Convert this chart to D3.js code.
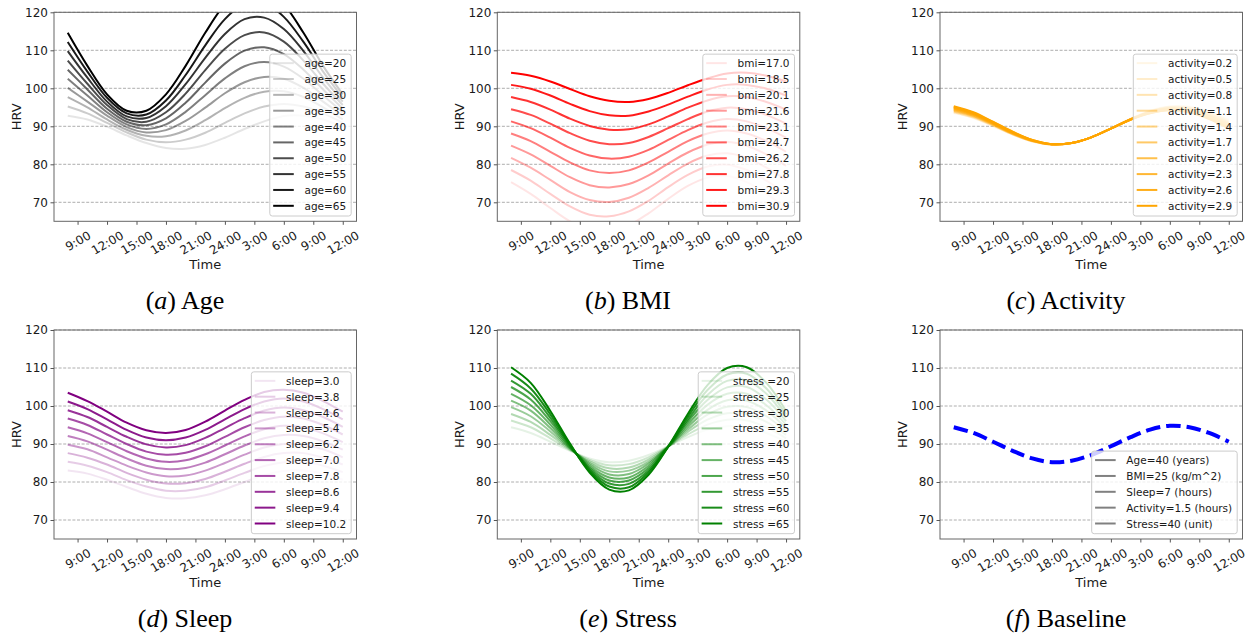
<!DOCTYPE html>
<html><head><meta charset="utf-8">
<script src="https://cdn.jsdelivr.net/npm/d3@7"></script>
<style>body{margin:0;background:#fff;} svg{display:block;font-family:"DejaVu Sans",sans-serif;}</style>
</head><body>
<svg id="chart" width="1252" height="635"></svg>
<script>
// ---------------- data ----------------
const hours = [8,10,12,14,16,18,20,22,24,26,28,30,32,34,36];
const xTickValues = [9,12,15,18,21,24,27,30,33,36];
const xTickLabels = ["9:00","12:00","15:00","18:00","21:00","24:00","3:00","6:00","9:00","12:00"];
const yTickValues = [70,80,90,100,110,120];

const ageLabels = ["age=20","age=25","age=30","age=35","age=40","age=45","age=50","age=55","age=60","age=65"];
const ageSeries = [
 [92.8,91.8,89.9,87.6,85.6,84.3,84.1,85.1,87.0,89.3,91.3,92.7,92.8,91.8,89.9],
 [95.2,93.4,90.9,88.4,86.5,85.8,86.5,88.3,90.9,93.4,95.2,95.9,95.2,93.4,90.9],
 [97.7,95.0,91.8,89.1,87.5,87.4,88.9,91.6,94.8,97.5,99.1,99.2,97.7,95.0,91.8],
 [100.1,96.5,92.8,89.8,88.4,89.0,91.4,94.9,98.7,101.6,103.0,102.5,100.1,96.5,92.8],
 [102.5,98.1,93.7,90.5,89.3,90.5,93.8,98.2,102.6,105.8,106.9,105.7,102.5,98.1,93.7],
 [104.9,99.7,94.6,91.2,90.3,92.1,96.2,101.5,106.5,109.9,110.8,109.0,104.9,99.7,94.6],
 [107.3,101.2,95.6,91.9,91.2,93.7,98.6,104.8,110.4,114.0,114.7,112.3,107.3,101.2,95.6],
 [109.8,102.8,96.5,92.6,92.2,95.3,101.1,108.0,114.3,118.2,118.6,115.6,109.8,102.8,96.5],
 [112.2,104.4,97.5,93.4,93.1,96.8,103.5,111.3,118.2,122.3,122.5,118.8,112.2,104.4,97.5],
 [114.6,105.9,98.4,94.1,94.1,98.4,105.9,114.6,122.1,126.4,126.4,122.1,114.6,105.9,98.4]
];

const bmiLabels = ["bmi=17.0","bmi=18.5","bmi=20.1","bmi=21.6","bmi=23.1","bmi=24.7","bmi=26.2","bmi=27.8","bmi=29.3","bmi=30.9"];
const bmiSeries = [
 [75.3,72.2,68.5,65.0,62.8,62.5,64.0,67.1,70.9,74.3,76.5,76.9,75.3,72.2,68.5],
 [78.5,75.7,72.2,68.9,66.7,66.3,67.6,70.4,74.0,77.2,79.4,79.9,78.5,75.7,72.2],
 [81.7,79.1,75.9,72.7,70.6,70.1,71.2,73.8,77.1,80.2,82.3,82.9,81.7,79.1,75.9],
 [84.9,82.6,79.6,76.6,74.5,73.9,74.8,77.1,80.2,83.1,85.2,85.9,84.9,82.6,79.6],
 [88.1,86.1,83.3,80.5,78.4,77.7,78.4,80.5,83.3,86.1,88.1,88.9,88.1,86.1,83.3],
 [91.3,89.5,87.0,84.3,82.3,81.5,82.0,83.8,86.4,89.0,91.0,91.9,91.3,89.5,87.0],
 [94.5,93.0,90.7,88.2,86.2,85.3,85.6,87.2,89.5,91.9,93.9,94.9,94.5,93.0,90.7],
 [97.7,96.4,94.4,92.0,90.1,89.1,89.2,90.5,92.6,94.9,96.8,97.9,97.7,96.4,94.4],
 [100.9,99.9,98.1,95.9,94.0,92.9,92.8,93.9,95.7,97.8,99.7,100.9,100.9,99.9,98.1],
 [104.1,103.3,101.8,99.8,97.9,96.7,96.4,97.2,98.8,100.8,102.6,103.9,104.1,103.3,101.8]
];

const activityLabels = ["activity=0.2","activity=0.5","activity=0.8","activity=1.1","activity=1.4","activity=1.7","activity=2.0","activity=2.3","activity=2.6","activity=2.9"];
const activitySeries = [
 [93.5,92.2,90.0,87.8,86.0,85.2,85.6,87.1,89.4,92.0,94.2,95.3,95.2,94.0,91.9],
 [93.7,92.3,90.2,87.9,86.0,85.2,85.6,87.1,89.4,91.9,94.1,95.2,95.1,93.7,91.6],
 [93.9,92.5,90.3,87.9,86.1,85.2,85.6,87.1,89.4,91.9,94.0,95.1,94.9,93.5,91.3],
 [94.1,92.7,90.4,88.0,86.1,85.2,85.6,87.1,89.4,91.9,93.9,95.0,94.7,93.3,91.0],
 [94.3,92.8,90.6,88.1,86.2,85.2,85.6,87.1,89.4,91.9,93.8,94.8,94.5,93.0,90.8],
 [94.5,93.0,90.7,88.2,86.2,85.3,85.6,87.1,89.4,91.8,93.8,94.7,94.3,92.8,90.5],
 [94.7,93.2,90.8,88.3,86.3,85.3,85.6,87.1,89.4,91.8,93.7,94.6,94.2,92.6,90.2],
 [94.9,93.3,91.0,88.4,86.3,85.3,85.6,87.1,89.4,91.8,93.6,94.4,94.0,92.3,89.9],
 [95.1,93.5,91.1,88.5,86.4,85.3,85.6,87.1,89.4,91.8,93.5,94.3,93.8,92.1,89.6],
 [95.3,93.7,91.2,88.6,86.4,85.3,85.6,87.1,89.4,91.7,93.4,94.2,93.6,91.9,89.4]
];

const sleepLabels = ["sleep=3.0","sleep=3.8","sleep=4.6","sleep=5.4","sleep=6.2","sleep=7.0","sleep=7.8","sleep=8.6","sleep=9.4","sleep=10.2"];
const sleepSeries = [
 [83.0,82.2,80.6,78.7,76.9,75.8,75.7,76.5,78.1,80.0,81.8,82.9,83.0,82.2,80.6],
 [85.3,84.3,82.6,80.5,78.8,77.7,77.7,78.6,80.4,82.4,84.2,85.2,85.3,84.3,82.6],
 [87.6,86.4,84.6,82.4,80.6,79.6,79.7,80.8,82.7,84.8,86.6,87.6,87.6,86.4,84.6],
 [89.8,88.6,86.5,84.3,82.5,81.5,81.7,83.0,85.0,87.2,89.1,90.0,89.8,88.6,86.5],
 [92.1,90.7,88.5,86.2,84.3,83.4,83.7,85.1,87.3,89.6,91.5,92.4,92.1,90.7,88.5],
 [94.4,92.8,90.5,88.1,86.2,85.3,85.7,87.3,89.6,92.0,93.9,94.8,94.4,92.8,90.5],
 [96.7,95.0,92.5,90.0,88.0,87.2,87.7,89.4,91.9,94.4,96.3,97.2,96.7,95.0,92.5],
 [98.9,97.1,94.5,91.9,89.9,89.1,89.7,91.6,94.2,96.8,98.8,99.6,98.9,97.1,94.5],
 [101.2,99.2,96.5,93.7,91.7,91.0,91.7,93.7,96.5,99.2,101.2,102.0,101.2,99.2,96.5],
 [103.5,101.3,98.5,95.6,93.6,92.9,93.7,95.9,98.8,101.6,103.7,104.3,103.5,101.3,98.5]
];

const stressLabels = ["stress =20","stress =25","stress =30","stress =35","stress =40","stress =45","stress =50","stress =55","stress =60","stress =65"];
const stressSeries = [
 [94.4,92.9,90.6,88.2,86.2,85.2,85.6,87.1,89.4,91.8,93.8,94.7,94.4,92.9,90.6],
 [96.2,94.4,91.5,88.4,85.8,84.4,84.7,86.5,89.3,92.5,95.1,96.4,96.2,94.4,91.5],
 [97.9,95.8,92.4,88.6,85.4,83.6,83.8,85.9,89.3,93.2,96.4,98.1,97.9,95.8,92.4],
 [99.7,97.3,93.3,88.8,85.0,82.8,83.0,85.3,89.3,93.8,97.7,99.8,99.7,97.3,93.3],
 [101.4,98.8,94.2,89.0,84.6,82.0,82.1,84.8,89.3,94.5,99.0,101.5,101.4,98.8,94.2],
 [103.2,100.2,95.1,89.2,84.1,81.2,81.2,84.2,89.3,95.2,100.3,103.2,103.2,100.2,95.1],
 [105.0,101.7,96.0,89.5,83.7,80.4,80.4,83.6,89.3,95.9,101.6,104.9,105.0,101.7,96.0],
 [106.7,103.2,96.9,89.7,83.3,79.6,79.5,83.0,89.3,96.5,102.9,106.6,106.7,103.2,96.9],
 [108.5,104.6,97.8,89.9,82.9,78.8,78.6,82.5,89.3,97.2,104.2,108.3,108.5,104.6,97.8],
 [110.2,106.1,98.7,90.1,82.5,78.0,77.8,81.9,89.3,97.9,105.5,110.0,110.2,106.1,98.7]
];

const baselineSeries = [94.4,92.9,90.6,88.2,86.2,85.2,85.6,87.1,89.4,91.8,93.8,94.8,94.4,92.9,90.6];
const baselineLegend = ["Age=40 (years)","BMI=25 (kg/m^2)","Sleep=7 (hours)","Activity=1.5 (hours)","Stress=40 (unit)"];

const captionLetters = ["a","b","c","d","e","f"];
const captionNames = ["Age","BMI","Activity","Sleep","Stress","Baseline"];

// ---------------- layout ----------------
const colLeft = [54, 497.3, 940];
const colCaption = [185, 628, 1066];
const rowTop = [12.3, 330];
const rowCaptionY = [309, 627];
const plotW = 302.5, plotH = 209;

const svg = d3.select("#chart");

const panels = [
  {row:0,col:0,series:ageSeries,labels:ageLabels,color:"#000000"},
  {row:0,col:1,series:bmiSeries,labels:bmiLabels,color:"#ff0000"},
  {row:0,col:2,series:activitySeries,labels:activityLabels,color:"#ffa500"},
  {row:1,col:0,series:sleepSeries,labels:sleepLabels,color:"#800080"},
  {row:1,col:1,series:stressSeries,labels:stressLabels,color:"#008000"},
  {row:1,col:2,series:[baselineSeries],labels:baselineLegend,color:"#0000ff",baseline:true}
];

const x = d3.scaleLinear().domain([6.6, 37.4]).range([0, plotW]);
const y = d3.scaleLinear().domain([65, 120]).range([plotH, 0]);
const line = d3.line().x((d,i)=>x(hours[i])).y(d=>y(d)).curve(d3.curveCatmullRom.alpha(0.5));

panels.forEach((p, pi) => {
  const g = svg.append("g").attr("transform", `translate(${colLeft[p.col]},${rowTop[p.row]})`);
  const clipId = "clip" + pi;
  g.append("clipPath").attr("id", clipId).append("rect").attr("width", plotW).attr("height", plotH);

  // grid
  g.append("g").selectAll("line").data(yTickValues).join("line")
    .attr("x1", 0).attr("x2", plotW).attr("y1", d=>y(d)).attr("y2", d=>y(d))
    .attr("stroke", "#999").attr("stroke-width", 0.8).attr("stroke-dasharray", "3,1.6");

  // lines
  const lg = g.append("g").attr("clip-path", `url(#${clipId})`);
  if (p.baseline) {
    lg.append("path").attr("d", line(p.series[0])).attr("fill","none")
      .attr("stroke", p.color).attr("stroke-width", 4).attr("stroke-dasharray","14.5,6");
  } else {
    p.series.forEach((s, k) => {
      lg.append("path").attr("d", line(s)).attr("fill","none")
        .attr("stroke", p.color).attr("stroke-opacity", (k+1)/10).attr("stroke-width", 2);
    });
  }

  // frame
  g.append("rect").attr("width", plotW).attr("height", plotH)
    .attr("fill","none").attr("stroke","#666").attr("stroke-width",1);

  // y axis
  const ya = g.append("g").call(d3.axisLeft(y).tickValues(yTickValues).tickSize(3.5).tickPadding(2.5));
  ya.select(".domain").remove();
  ya.selectAll("line").attr("stroke","#555");
  ya.selectAll("text").attr("font-family","DejaVu Sans").attr("font-size",12).attr("fill","#1a1a1a");

  // x axis
  const xa = g.append("g").attr("transform", `translate(0,${plotH})`)
    .call(d3.axisBottom(x).tickValues(xTickValues).tickFormat((d,i)=>xTickLabels[i]).tickSize(3.5));
  xa.select(".domain").remove();
  xa.selectAll("line").attr("stroke","#555");
  xa.selectAll("text").attr("font-family","DejaVu Sans").attr("font-size",12).attr("fill","#1a1a1a")
    .attr("text-anchor","middle").attr("dy",null)
    .each(function(){
      const t = d3.select(this);
      const w = this.getComputedTextLength();
      const h = 14;
      const H = w*0.5 + h*0.866;
      t.attr("x",0).attr("y",0).attr("dominant-baseline","central")
       .attr("transform", `translate(0,${3.5+3.5+H/2}) rotate(-30)`);
    });

  // axis labels
  g.append("text").attr("x", plotW/2).attr("y", plotH + 47.5).attr("text-anchor","middle")
    .attr("font-size",13).attr("fill","#1a1a1a").text("Time");
  g.append("text").attr("transform", `translate(-37.5,${plotH/2}) rotate(-90)`)
    .attr("text-anchor","middle").attr("dominant-baseline","central")
    .attr("font-size",13).attr("fill","#1a1a1a").text("HRV");

  // legend
  const n = p.labels.length;
  const pitch = 15.85;
  const leg = g.append("g");
  const box = leg.append("rect");
  const texts = [];
  let maxW = 0;
  p.labels.forEach((lab, k) => {
    const tt = leg.append("text").attr("font-size",10.5).attr("fill","#1a1a1a")
      .attr("dominant-baseline","central").text(lab);
    maxW = Math.max(maxW, tt.node().getComputedTextLength());
    texts.push(tt);
  });
  const boxW = 3.4 + 20.6 + 10.7 + maxW + 5;
  const boxH = (n-1)*pitch + 19.2;
  const bx = plotW - 5.3 - boxW, by = plotH - 5.3 - boxH;
  box.attr("x", bx).attr("y", by).attr("width", boxW).attr("height", boxH).attr("rx", 2.5)
    .attr("fill","#fff").attr("fill-opacity",0.8).attr("stroke","#cccccc").attr("stroke-width",1);
  p.labels.forEach((lab, k) => {
    const cy = by + 9 + k*pitch;
    leg.append("line").attr("x1", bx+3.4).attr("x2", bx+24).attr("y1", cy).attr("y2", cy)
      .attr("stroke", p.baseline ? "#808080" : p.color)
      .attr("stroke-opacity", p.baseline ? 1 : (k+1)/10).attr("stroke-width", 2);
    texts[k].attr("x", bx + 34.7).attr("y", cy);
    texts[k].raise();
  });

  // caption
  const idx = p.row*3 + p.col;
  const cap = svg.append("text").attr("x", colCaption[p.col]).attr("y", rowCaptionY[p.row])
    .attr("text-anchor","middle").attr("font-family","'Liberation Serif','Times New Roman',serif")
    .attr("font-size",26).attr("fill","#000");
  cap.append("tspan").text("(");
  cap.append("tspan").attr("font-style","italic").text(captionLetters[idx]);
  cap.append("tspan").text(") " + captionNames[idx]);
});
</script>
</body></html>
